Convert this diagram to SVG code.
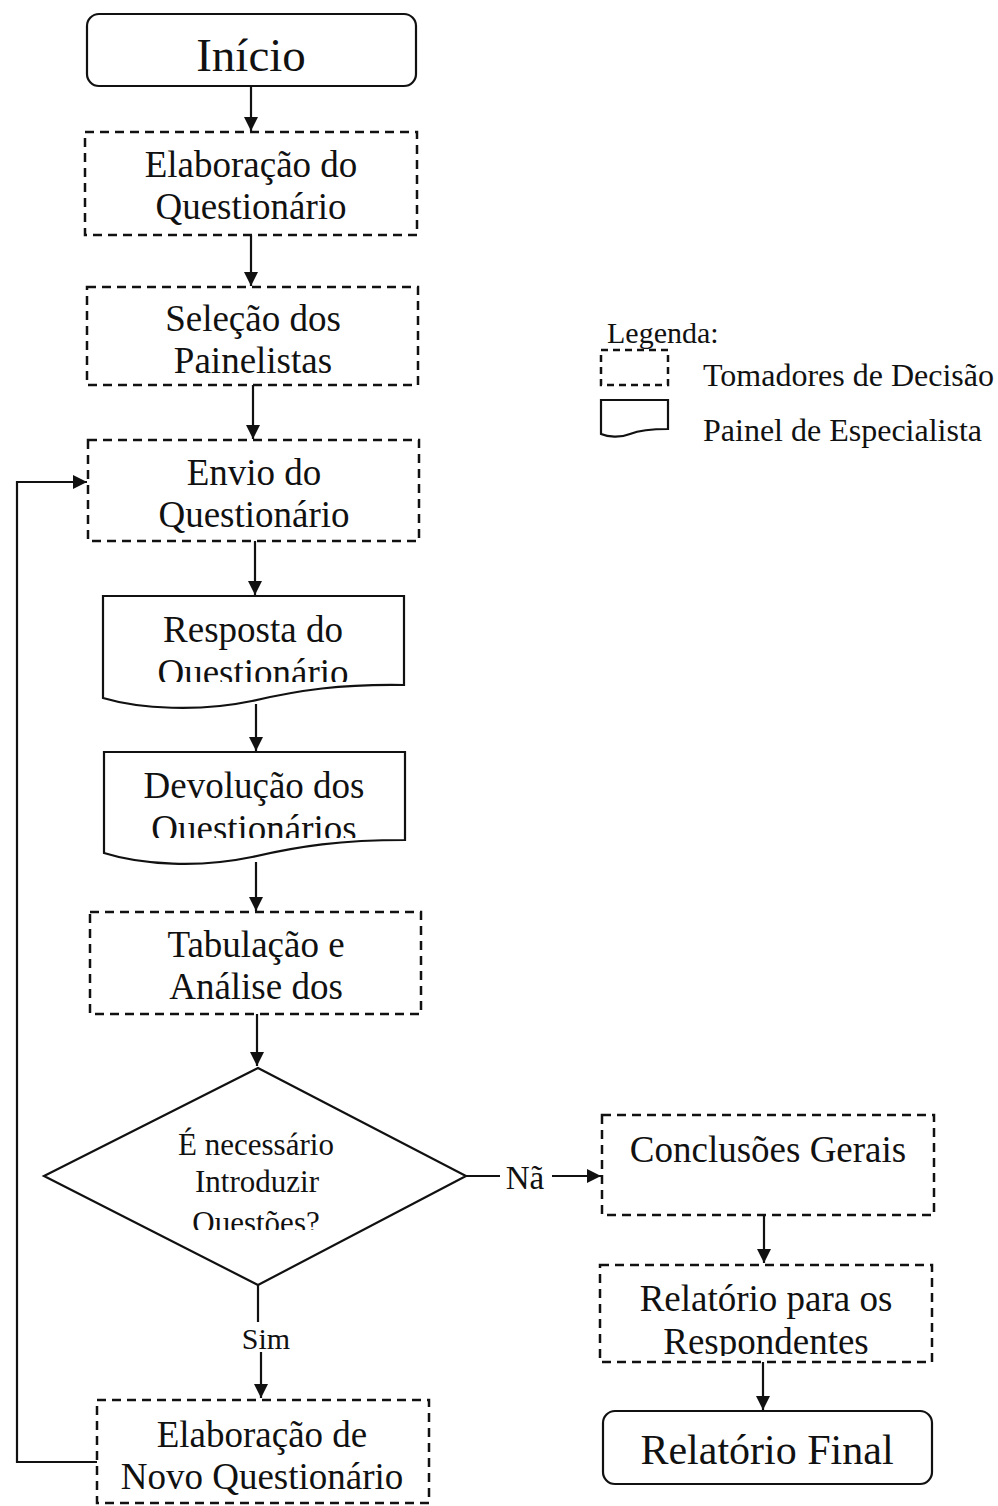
<svg xmlns="http://www.w3.org/2000/svg" width="998" height="1506" viewBox="0 0 998 1506">
<style>
.t{font-family:"Liberation Serif","Times New Roman",serif;fill:#111;text-anchor:middle}
.n{font-size:37px}
.d{fill:#fff;stroke:#111;stroke-width:2.5;stroke-dasharray:9,6}
.s{fill:#fff;stroke:#111;stroke-width:2.2}
.c{fill:none;stroke:#111;stroke-width:2.2}
</style>
<defs>
<marker id="a" viewBox="0 0 10 10" refX="10" refY="5" markerWidth="15" markerHeight="14" markerUnits="userSpaceOnUse" orient="auto"><path d="M0,0 L10,5 L0,10 Z" fill="#111"/></marker>
<clipPath id="c1"><rect x="100" y="590" width="310" height="92"/></clipPath>
<clipPath id="c2"><rect x="100" y="745" width="310" height="93"/></clipPath>
<clipPath id="c3"><rect x="40" y="1060" width="430" height="170"/></clipPath>
<clipPath id="c4"><rect x="595" y="1260" width="340" height="96"/></clipPath>
</defs>
<rect width="998" height="1506" fill="#fff"/>

<g id="connectors">
<path class="c" d="M251,86 V131" marker-end="url(#a)"/>
<path class="c" d="M251,235 V286" marker-end="url(#a)"/>
<path class="c" d="M253,385 V439" marker-end="url(#a)"/>
<path class="c" d="M255,541 V595" marker-end="url(#a)"/>
<path class="c" d="M256,704 V751" marker-end="url(#a)"/>
<path class="c" d="M256,862 V911" marker-end="url(#a)"/>
<path class="c" d="M257,1014 V1066" marker-end="url(#a)"/>
<path class="c" d="M466,1176 H500"/>
<path class="c" d="M552,1176 H601" marker-end="url(#a)"/>
<path class="c" d="M764,1215 V1263" marker-end="url(#a)"/>
<path class="c" d="M763,1362 V1410" marker-end="url(#a)"/>
<path class="c" d="M258,1285 V1322"/>
<path class="c" d="M261,1352 V1398" marker-end="url(#a)"/>
<path class="c" d="M97,1462 H17 V482 H87" marker-end="url(#a)"/>
<text class="t" x="525" y="1189" style="font-size:33px">Nã</text>
<text class="t" x="266" y="1349" style="font-size:30px">Sim</text>
</g>

<g id="inicio">
<rect class="s" x="87" y="14" width="329" height="72" rx="12"/>
<text class="t" x="251" y="71" style="font-size:47px">Início</text>
</g>

<g id="elaboracao">
<rect class="d" x="85" y="132" width="332" height="103"/>
<text class="t n" x="251" y="177">Elaboração do</text>
<text class="t n" x="251" y="219">Questionário</text>
</g>

<g id="selecao">
<rect class="d" x="87" y="287" width="331" height="98"/>
<text class="t n" x="253" y="331">Seleção dos</text>
<text class="t n" x="253" y="373">Painelistas</text>
</g>

<g id="envio">
<rect class="d" x="88" y="440" width="331" height="101"/>
<text class="t n" x="254" y="485">Envio do</text>
<text class="t n" x="254" y="527">Questionário</text>
</g>

<g id="resposta">
<path class="s" d="M103,596 H404 V685 C340,684 300,690 252,701 C200,712 140,709 103,698 Z"/>
<g clip-path="url(#c1)">
<text class="t n" x="253" y="642">Resposta do</text>
<text class="t n" x="253" y="685">Questionário</text>
</g>
</g>

<g id="devolucao">
<path class="s" d="M104,752 H405 V840 C340,840 300,846 252,857 C200,868 142,865 104,853 Z"/>
<g clip-path="url(#c2)">
<text class="t n" x="254" y="798">Devolução dos</text>
<text class="t n" x="254" y="841">Questionários</text>
</g>
</g>

<g id="tabulacao">
<rect class="d" x="90" y="912" width="331" height="102"/>
<text class="t n" x="256" y="957">Tabulação e</text>
<text class="t n" x="256" y="999">Análise dos</text>
</g>

<g id="decisao">
<path class="s" d="M258,1068 L466,1176 L258,1285 L44,1176 Z"/>
<g clip-path="url(#c3)">
<text class="t" x="256" y="1155" style="font-size:31px">É necessário</text>
<text class="t" x="257" y="1192" style="font-size:31px">Introduzir</text>
<text class="t" x="256" y="1233" style="font-size:31px">Questões?</text>
</g>
</g>

<g id="conclusoes">
<rect class="d" x="602" y="1115" width="332" height="100"/>
<text class="t n" x="768" y="1162">Conclusões Gerais</text>
</g>

<g id="relatorio-respondentes">
<rect class="d" x="600" y="1265" width="332" height="97"/>
<text class="t n" x="766" y="1311">Relatório para os</text>
<g clip-path="url(#c4)">
<text class="t n" x="766" y="1354">Respondentes</text>
</g>
</g>

<g id="relatorio-final">
<rect class="s" x="603" y="1411" width="329" height="73" rx="12"/>
<text class="t" x="767" y="1464" style="font-size:42px">Relatório Final</text>
</g>

<g id="novo">
<rect class="d" x="97" y="1400" width="332" height="103"/>
<text class="t n" x="262" y="1447">Elaboração de</text>
<text class="t n" x="262" y="1489">Novo Questionário</text>
</g>

<g id="legenda">
<text class="t" x="607" y="343" style="font-size:30px;text-anchor:start">Legenda:</text>
<rect class="d" x="601" y="350" width="67" height="35" style="stroke-dasharray:7,5"/>
<text class="t" x="703" y="386" style="font-size:32px;text-anchor:start">Tomadores de Decisão</text>
<path class="s" d="M601,400 H668 V429 C650,429 640,430 630,434 C620,438 608,437 601,434 Z"/>
<text class="t" x="703" y="441" style="font-size:32px;text-anchor:start">Painel de Especialista</text>
</g>
</svg>
